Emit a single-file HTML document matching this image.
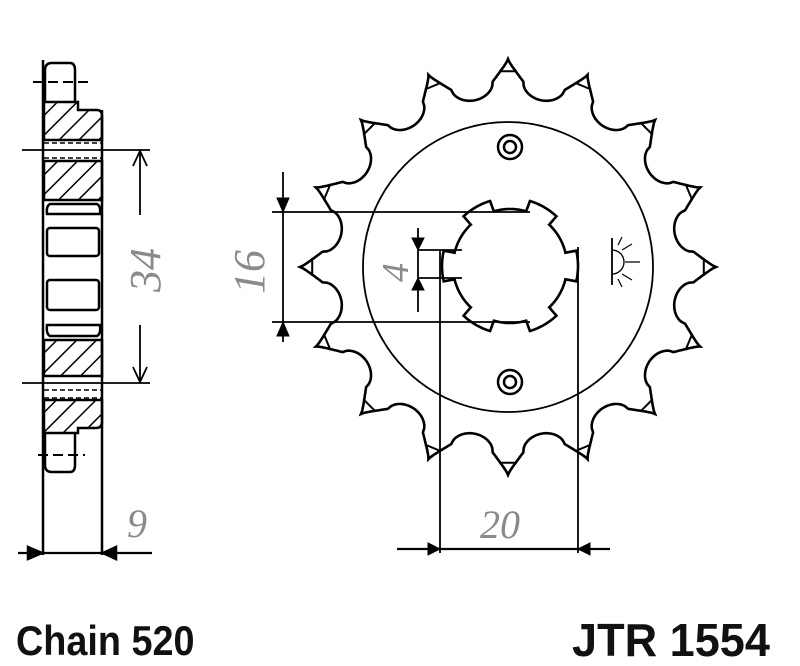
<!DOCTYPE html>
<html><head><meta charset="utf-8"><style>
body{margin:0;background:#fff;width:800px;height:666px;overflow:hidden}
svg{display:block}
.t{font-family:"Liberation Sans",sans-serif;font-weight:bold;fill:#111}
.d{font-family:"Liberation Serif",serif;font-style:italic;fill:#8a8a8a}
</style></head><body>
<svg id="s" width="800" height="666" viewBox="0 0 800 666" xmlns="http://www.w3.org/2000/svg">
<defs>
<pattern id="h" width="14" height="14" patternUnits="userSpaceOnUse" patternTransform="rotate(45)">
<rect width="14" height="14" fill="#fff"/><line x1="0" y1="0" x2="0" y2="14" stroke="#000" stroke-width="3"/></pattern>
</defs>
<g stroke="#000" fill="none" stroke-width="2.5">
<path d="M45 102 V70 Q45 63 52 63 H70 Q75 63 75 70 V102" />
<line x1="33" y1="82" x2="92" y2="82" stroke-dasharray="10,5" stroke-width="2"/>
<path d="M44 102 H78 V110 H97 Q102 110 102 116 V140 H44 Z" fill="url(#h)"/>
<line x1="44" y1="143" x2="102" y2="143" stroke-dasharray="5,3" stroke-width="1.5"/>
<line x1="44" y1="158" x2="102" y2="158" stroke-dasharray="5,3" stroke-width="1.5"/>
<path d="M44 161 H102 V200 H44 Z" fill="url(#h)"/>
<path d="M50 204 H97 Q101 206 100 214 H47 Q46 206 50 204Z"/>
<rect x="47" y="228" width="52" height="28" rx="3"/>
<rect x="47" y="280" width="52" height="30" rx="3"/>
<path d="M47 325 H100 Q101 334 97 336 H50 Q46 334 47 325Z"/>
<path d="M44 340 H102 V376 H44 Z" fill="url(#h)"/>
<line x1="44" y1="390" x2="102" y2="390" stroke-dasharray="5,3" stroke-width="1.5"/>
<line x1="44" y1="398" x2="102" y2="398" stroke-dasharray="5,3" stroke-width="1.5"/>
<path d="M44 400 H102 V422 Q102 428 96 428 H78 V433 H44 Z" fill="url(#h)"/>
<path d="M45 433 V465 Q45 472 52 472 H70 Q75 472 75 465 V433" />
<line x1="38" y1="455" x2="85" y2="455" stroke-dasharray="10,5" stroke-width="2"/>
<line x1="43" y1="60" x2="43" y2="555"/>
<line x1="102" y1="110" x2="102" y2="555"/>
<line x1="22" y1="150" x2="150" y2="150" stroke-width="1.8"/>
<line x1="22" y1="383" x2="150" y2="383" stroke-width="1.8"/>
<line x1="140" y1="152" x2="140" y2="215" stroke-width="1.8"/>
<line x1="140" y1="325" x2="140" y2="381" stroke-width="1.8"/>
<path d="M133 166 L140 151 L147 166" stroke-width="1.8"/>
<path d="M133 367 L140 382 L147 367" stroke-width="1.8"/>
<line x1="18" y1="553" x2="152" y2="553" stroke-width="2.2"/>
<path d="M28 547 L42 553 L28 559 Z M116 547 L103 553 L116 559 Z" fill="#000"/>
<path id="gear" stroke-width="2.6"/>
<g id="tips" stroke-width="2"></g>
<circle cx="508" cy="267" r="145" stroke-width="1.8"/>
<circle cx="510" cy="147" r="12"/><circle cx="510" cy="147" r="6"/>
<circle cx="510" cy="382" r="12"/><circle cx="510" cy="382" r="6"/>
<path id="spl" stroke-width="2.6"/>
<g stroke-width="1.8">
<line x1="272" y1="212" x2="530" y2="212"/>
<line x1="272" y1="322" x2="530" y2="322"/>
<line x1="283" y1="172" x2="283" y2="342"/>
<line x1="418" y1="228" x2="418" y2="312"/>
<line x1="418" y1="250" x2="462" y2="250"/>
<line x1="418" y1="278" x2="462" y2="278"/>
<line x1="440" y1="250" x2="440" y2="553"/>
<line x1="578" y1="247" x2="578" y2="553"/>
<line x1="397" y1="549" x2="610" y2="549" stroke-width="2.2"/>
<line x1="612" y1="238" x2="612" y2="285"/>
</g>
<path d="M277 198 L283 212 L289 198 Z M277 336 L283 322 L289 336Z M412 238 L418 250 L424 238Z M412 290 L418 278 L424 290Z M428 543 L440 549 L428 555Z M590 543 L578 549 L590 555Z" fill="#000" stroke-width="1"/>
<path d="M612 250 A12 12 0 0 1 612 274" stroke-width="1.3"/>
<path d="M625 262 H640 M622 250 L632 244 M622 274 L632 280 M618 245 L622 237 M618 279 L622 287" stroke-width="1.2"/>
</g>
<text class="d" font-size="44" transform="translate(160,292) rotate(-90)">34</text>
<text class="d" font-size="44" transform="translate(264,294) rotate(-90)">16</text>
<text class="d" font-size="38" transform="translate(408,282) rotate(-90)">4</text>
<text class="d" font-size="40" x="127" y="537">9</text>
<text class="d" font-size="40" x="480" y="538">20</text>
<text class="t" font-size="42" transform="translate(16,655) scale(0.9,1)">Chain 520</text>
<text class="t" font-size="46" transform="translate(572,656) scale(0.98,1)">JTR 1554</text>
</svg>
<script>
(function(){
var cx=508,cy=267,N=16,R=208,r0=170,pts=[],tips='';
var M=1600;
for(var k=0;k<=M;k++){
 var a=k/M*2*Math.PI;
 var p=a/(2*Math.PI/N); var d=p-Math.round(p); d=Math.abs(d)*2;
 var rr;
 if(d<0.42){var u=d/0.42; rr=R-22*Math.pow(u,0.8);}
 else {var v=1-(d-0.42)/0.58; rr=r0+16*(1-Math.sqrt(Math.max(0,1-v*v)));}
 pts.push((cx+rr*Math.sin(a)).toFixed(1)+','+(cy-rr*Math.cos(a)).toFixed(1));
}
document.getElementById('gear').setAttribute('d','M'+pts.join(' L')+'Z');
for(var i=0;i<N;i++){
 var a=i*2*Math.PI/N, da=0.045, rt=196;
 var x1=cx+rt*Math.sin(a-da),y1=cy-rt*Math.cos(a-da),x2=cx+rt*Math.sin(a+da),y2=cy-rt*Math.cos(a+da);
 tips+='<line x1="'+x1.toFixed(1)+'" y1="'+y1.toFixed(1)+'" x2="'+x2.toFixed(1)+'" y2="'+y2.toFixed(1)+'"/>';
}
document.getElementById('tips').innerHTML=tips;
var sp=[],scx=510,scy=266;
for(var k=0;k<=720;k++){
 var a=k/720*2*Math.PI;
 var p=a/(Math.PI/3)+0.5; var d=Math.abs(p-Math.round(p));
 var rr=d<0.22?68:57;
 sp.push((scx+rr*Math.sin(a)).toFixed(1)+','+(scy-rr*Math.cos(a)).toFixed(1));
}
document.getElementById('spl').setAttribute('d','M'+sp.join(' L')+'Z');
})();
</script>
</body></html>
